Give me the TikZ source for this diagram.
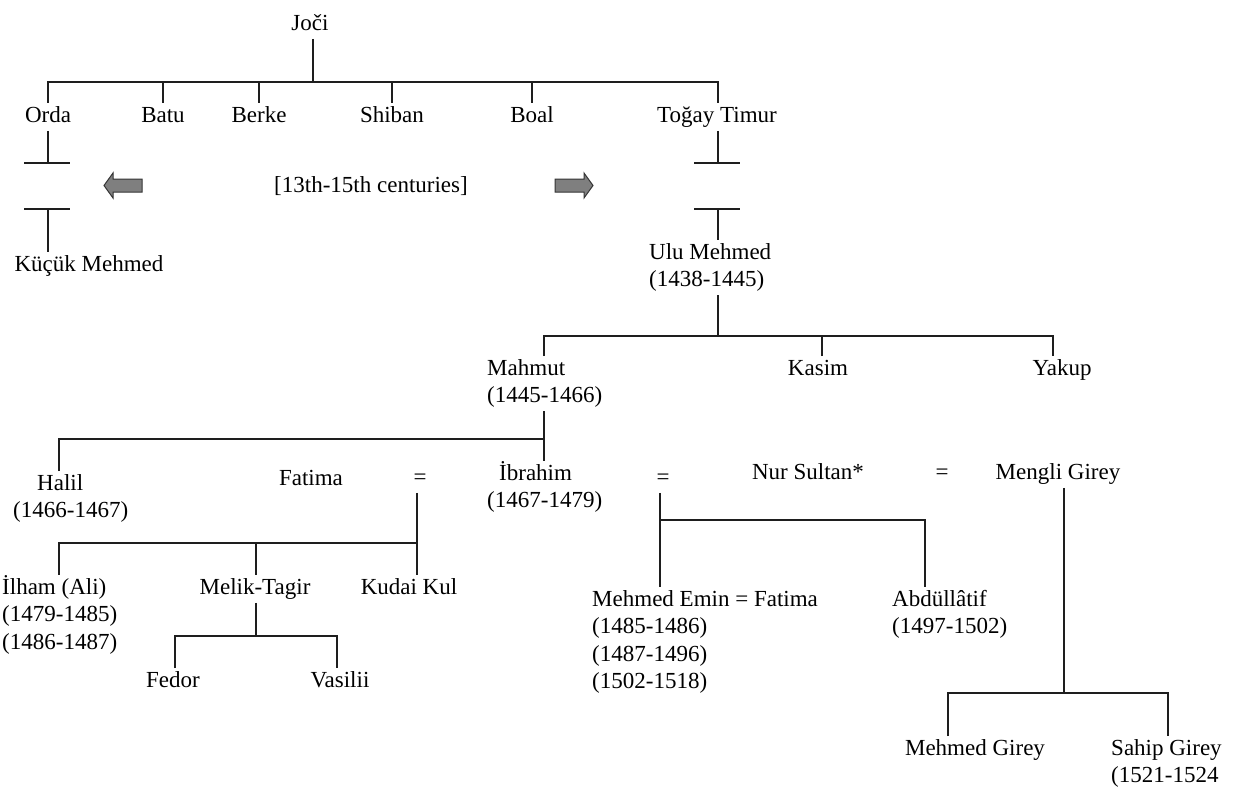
\documentclass[tikz,border=0pt]{standalone}
\usepackage{fontspec}
\setmainfont{Liberation Serif}
\newcommand{\nf}{\fontsize{23}{27.5}\selectfont}
\definecolor{ln}{HTML}{1E1E1E}
\definecolor{arrfill}{HTML}{7F7F7F}
\tikzset{
  nm/.style={inner sep=0pt, anchor=north, font=\nf, text=black},
  ml/.style={inner sep=0pt, anchor=north west, align=left, font=\nf, text=black},
  ln/.style={draw=ln, line width=1.6pt},
  blockarrow/.style={fill=arrfill, draw=ln!90, line width=1pt, line join=miter}
}
\begin{document}
\begin{tikzpicture}[x=1pt,y=-1pt]
\useasboundingbox[fill=white] (0,0) rectangle (1238,789);
% ---- nodes ----
\node[nm] (joci) at (310,11) {\strut Joči};
\node[nm] (orda) at (48,103) {\strut Orda};
\node[nm] (batu) at (163,103) {\strut Batu};
\node[nm] (berke) at (259,103) {\strut Berke};
\node[nm] (shiban) at (392,103) {\strut Shiban};
\node[nm] (boal) at (532,103) {\strut Boal};
\node[nm] (togay) at (717,103) {\strut Toğay Timur};
\node[nm] (kucuk) at (89,252) {\strut Küçük Mehmed};
\node[nm] (cent) at (371,173) {\strut [13th-15th centuries]};
\node[ml] (ulu) at (649,240) {\strut Ulu Mehmed\\\strut(1438-1445)};
\node[ml] (mahmut) at (487,356) {\strut Mahmut\\\strut(1445-1466)};
\node[nm] (kasim) at (818,356) {\strut Kasim};
\node[nm] (yakup) at (1062,356) {\strut Yakup};
\node[ml] (halil) at (13,471) {\strut\hspace{24pt}Halil\\\strut(1466-1467)};
\node[nm] (fatima) at (311,466) {\strut Fatima};
\node[nm] (eqa) at (420,465) {\strut =};
\node[ml] (ibrahim) at (487,461) {\strut\hspace{12pt}İbrahim\\\strut(1467-1479)};
\node[nm] (eqb) at (663,465) {\strut =};
\node[nm] (nur) at (808,460) {\strut Nur Sultan*};
\node[nm] (eqc) at (942,460) {\strut =};
\node[nm] (mengli) at (1058,460) {\strut Mengli Girey};
\node[ml] (ilham) at (2,575) {\strut İlham (Ali)\\\strut(1479-1485)\\\strut(1486-1487)};
\node[nm] (melik) at (255,575) {\strut Melik-Tagir};
\node[nm] (kudai) at (409,575) {\strut Kudai Kul};
\node[nm] (fedor) at (173,668) {\strut Fedor};
\node[nm] (vasilii) at (340,668) {\strut Vasilii};
\node[ml] (memin) at (592,587) {\strut Mehmed Emin = Fatima\\\strut(1485-1486)\\\strut(1487-1496)\\\strut(1502-1518)};
\node[ml] (abdul) at (892,587) {\strut Abdüllâtif\\\strut(1497-1502)};
\node[nm] (mgirey) at (975,736) {\strut Mehmed Girey};
\node[ml] (sahip) at (1111,736) {\strut Sahip Girey\\\strut(1521-1524};
% ---- coordinates ----
\coordinate (b1) at (0,82);
\coordinate (cb1) at (0,163);
\coordinate (cb2) at (0,209);
\coordinate (m) at (544,336);
\coordinate (yk) at (1053,336);
\coordinate (b3) at (59,439);
\coordinate (fq) at (417,543);
\coordinate (mt) at (256,636);
\coordinate (iq) at (660,520);
\coordinate (ab) at (925,520);
\coordinate (mg) at (1064,693);
\coordinate (mg1) at (948,693);
\coordinate (mg2) at (1168,693);
% ---- connectors ----
\draw[ln] ([xshift=3pt]joci.south) -- ([xshift=3pt]joci.south |- b1);
\draw[ln] (orda.north) -- (orda.north |- b1) -- ([xshift=1pt]togay.north |- b1) -- ([xshift=1pt]togay.north);
\foreach \n in {batu,berke,shiban,boal} \draw[ln] (\n.north) -- (\n.north |- b1);
% Orda broken line
\draw[ln] (orda.south) -- (orda.south |- cb1);
\draw[ln] ([xshift=-24pt]orda.south |- cb1) -- ([xshift=22pt]orda.south |- cb1);
\draw[ln] ([xshift=-24pt]orda.south |- cb2) -- ([xshift=22pt]orda.south |- cb2);
\draw[ln] (orda.south |- cb2) -- (kucuk.north -| orda.south);
% Togay broken line
\draw[ln] ([xshift=1pt]togay.south) -- ([xshift=1pt]togay.south |- cb1);
\draw[ln] ([xshift=-23pt]togay.south |- cb1) -- ([xshift=23pt]togay.south |- cb1);
\draw[ln] ([xshift=-23pt]togay.south |- cb2) -- ([xshift=23pt]togay.south |- cb2);
\draw[ln] ([xshift=1pt]togay.south |- cb2) -- ([xshift=1pt]togay.south |- ulu.north);
% Ulu Mehmed children
\draw[ln] ([xshift=1pt]togay.south |- ulu.south) -- ([xshift=1pt]togay.south |- m);
\draw[ln] (m |- mahmut.north) -- (m) -- (yk) -- (yk |- yakup.north);
\draw[ln] ([xshift=4pt]kasim.north) -- ([xshift=4pt]kasim.north |- m);
% Mahmut children
\draw[ln] (m |- mahmut.south) -- (m |- ibrahim.north);
\draw[ln] (b3 |- halil.north) -- (b3) -- (b3 -| m);
% Fatima = Ibrahim children
\draw[ln] (fq |- eqa.south) -- (fq |- kudai.north);
\draw[ln] (fq) -- (fq -| b3) -- (b3 |- ilham.north);
\draw[ln] (mt |- fq) -- (mt |- melik.north);
% Melik-Tagir children
\draw[ln] (melik.south -| mt) -- (mt);
\draw[ln] ([xshift=2pt]fedor.north) -- ([xshift=2pt]fedor.north |- mt) -- ([xshift=-3pt]vasilii.north |- mt) -- ([xshift=-3pt]vasilii.north);
% Ibrahim = Nur Sultan children
\draw[ln] (eqb.south -| iq) -- (memin.north -| iq);
\draw[ln] (iq) -- (ab) -- (ab |- abdul.north);
% Nur Sultan = Mengli Girey children
\draw[ln] (mengli.south -| mg) -- (mg);
\draw[ln] (mg1 |- mgirey.north) -- (mg1) -- (mg2) -- (mg2 |- sahip.north);
% ---- block arrows ----
\draw[blockarrow] (142,179) -- (113,179) -- (113,173) -- (104,185.5) -- (113,198) -- (113,192) -- (142,192) -- cycle;
\draw[blockarrow] (555,179) -- (584,179) -- (584,173) -- (593,185.5) -- (584,198) -- (584,192) -- (555,192) -- cycle;
\end{tikzpicture}
\end{document}
